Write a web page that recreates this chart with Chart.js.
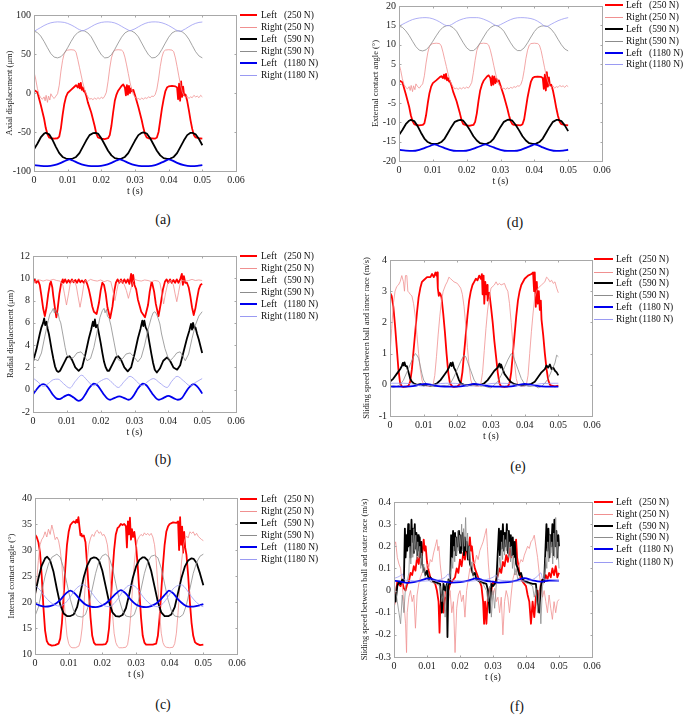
<!DOCTYPE html>
<html><head><meta charset="utf-8">
<script src="https://cdn.jsdelivr.net/npm/chart.js@4.4.1/dist/chart.umd.min.js"></script>
<style>
body{margin:0;background:#fff;width:685px;height:716px;overflow:hidden;position:relative;font-family:"Liberation Serif","Times New Roman",serif;}
.pw{position:absolute}
.lg{position:absolute;height:12px;font-size:9.5px;color:#111;line-height:12px;white-space:nowrap}
.lg span{position:absolute;top:0}
.lg i{position:absolute;height:0;border-top-style:solid}
.sub{position:absolute;font-size:14px;color:#111;transform:translate(-50%,-50%);white-space:nowrap}
</style></head><body>
<script>
// ---------- shared axis / legend texts ----------
const X_TICKS=[0,0.01,0.02,0.03,0.04,0.05,0.06];
const X_LABELS=['0','0.01','0.02','0.03','0.04','0.05','0.06'];
const SIDES=['Left','Right','Left','Right','Left','Right'];
const LOADS=['(250 N)','(250 N)','(590 N)','(590 N)','(1180 N)','(1180 N)'];

// ---------- (a) axial displacement ----------
const a_yTicks=[-100,-50,0,50,100];
const a_left250=[[0,4],[0.001,1],[0.002,-15],[0.003,-33],[0.0035,-45],[0.004,-53],[0.0045,-57],[0.005,-58],[0.006,-58.5],[0.007,-58],[0.0075,-56],[0.008,-45],[0.0085,-28],[0.009,-14],[0.0095,-5],[0.010,0],[0.011,4],[0.012,8],[0.0125,10],[0.013,7],[0.0133,12],[0.0136,6],[0.0139,13],[0.0142,4],[0.0145,7],[0.0148,2],[0.015,3],[0.0155,-3],[0.016,-12],[0.017,-25],[0.018,-42],[0.0185,-52],[0.019,-57],[0.020,-58.5],[0.021,-59],[0.022,-58],[0.0225,-54],[0.023,-42],[0.0235,-25],[0.024,-10],[0.0245,-2],[0.025,3],[0.026,9],[0.0265,11],[0.027,7],[0.0273,-3],[0.0276,10],[0.0279,-2],[0.0282,9],[0.0285,0],[0.0288,6],[0.0291,2],[0.0295,4],[0.030,-3],[0.031,-18],[0.032,-35],[0.0325,-45],[0.033,-53],[0.0335,-57],[0.034,-58],[0.036,-58.5],[0.0365,-57],[0.037,-50],[0.0375,-35],[0.038,-20],[0.0385,-8],[0.039,2],[0.0395,7],[0.040,8.5],[0.041,9],[0.042,8.5],[0.0425,7],[0.0428,-8],[0.0431,12],[0.0434,-10],[0.0437,15],[0.044,-5],[0.0443,8],[0.0446,-3],[0.045,-2],[0.0455,-10],[0.046,-22],[0.0465,-35],[0.047,-46],[0.0475,-54],[0.048,-57],[0.049,-58],[0.05,-58.5]];
const a_right250=[[0,27],[0.0005,18],[0.001,6],[0.0015,-2],[0.002,-6],[0.0025,-8],[0.003,-5],[0.0033,-10],[0.0036,-3],[0.004,-12],[0.0043,-4],[0.0047,-9],[0.005,-1],[0.0055,-5],[0.006,-7],[0.0065,-4],[0.007,-1],[0.0075,10],[0.008,28],[0.0085,42],[0.009,51],[0.0095,54],[0.010,55],[0.011,55.5],[0.012,55],[0.0125,52],[0.013,43],[0.0135,33],[0.014,23],[0.0145,13],[0.015,5],[0.0155,-1],[0.016,-5],[0.0165,-8],[0.017,-7],[0.0175,-8.5],[0.018,-6.5],[0.0185,-8],[0.019,-6],[0.0195,-7.5],[0.020,-5.5],[0.0205,-7],[0.021,-4],[0.0215,1],[0.022,15],[0.0225,32],[0.023,45],[0.0235,52],[0.024,55],[0.025,55.5],[0.026,55],[0.0265,53],[0.027,46],[0.0275,36],[0.028,25],[0.0285,14],[0.029,5],[0.0295,-2],[0.030,-5],[0.0305,-8],[0.031,-7],[0.0315,-8.5],[0.032,-6.5],[0.0325,-8],[0.033,-6],[0.0335,-7],[0.034,-5],[0.0345,-6],[0.035,-4],[0.0355,-4.5],[0.036,-2],[0.0365,5],[0.037,18],[0.0375,34],[0.038,46],[0.0385,53],[0.039,55],[0.040,55.5],[0.041,55],[0.0415,53],[0.042,45],[0.0425,34],[0.043,22],[0.0435,11],[0.044,2],[0.0445,-3],[0.045,-6],[0.0455,-4],[0.046,-7],[0.0465,-5],[0.047,-6],[0.0475,-3],[0.048,-5],[0.0485,-4],[0.049,-6],[0.0495,-3],[0.05,-5]];
const a_left590=[[0,-72],[0.001,-65],[0.002,-57],[0.003,-52],[0.0035,-51],[0.0045,-53],[0.0055,-60],[0.0065,-69],[0.0075,-77],[0.0085,-82],[0.0095,-84],[0.0105,-84.5],[0.0115,-84],[0.0125,-82],[0.0135,-77],[0.0145,-69],[0.0155,-61],[0.0165,-54],[0.0175,-51.5],[0.0182,-51],[0.019,-52],[0.020,-58],[0.021,-66],[0.022,-74],[0.023,-80],[0.024,-83.5],[0.025,-84.5],[0.026,-84],[0.027,-82],[0.028,-77],[0.029,-69],[0.030,-61],[0.031,-54],[0.032,-51],[0.0325,-50.5],[0.0335,-52],[0.0345,-58],[0.0355,-66],[0.0365,-74],[0.0375,-80],[0.0385,-83.5],[0.0395,-84.5],[0.0405,-84],[0.0415,-82],[0.0425,-77],[0.0435,-69],[0.0445,-61],[0.0455,-54],[0.0465,-51],[0.047,-51],[0.048,-53],[0.049,-59],[0.05,-67]];
const a_right590=[[0,79.5],[0.001,77.5],[0.002,73],[0.003,66],[0.004,58],[0.005,50.5],[0.006,46],[0.007,45],[0.008,46.5],[0.009,51],[0.010,58],[0.011,66],[0.012,73],[0.013,77.5],[0.014,79.5],[0.0145,80],[0.015,79.5],[0.016,77],[0.017,72],[0.018,64],[0.019,56],[0.020,49],[0.021,45],[0.022,45.5],[0.023,49],[0.024,56],[0.025,64],[0.026,71.5],[0.027,77],[0.028,79.5],[0.0285,80],[0.029,79.5],[0.030,77],[0.031,72],[0.032,64],[0.033,56],[0.034,49],[0.035,45],[0.036,45.5],[0.037,49],[0.038,56],[0.039,64],[0.040,71.5],[0.041,77],[0.042,79.3],[0.043,79.8],[0.044,78.5],[0.045,75],[0.046,69],[0.047,61],[0.048,53],[0.049,47.5],[0.05,45]];
const a_left1180=[[0,-92.5],[0.002,-93.5],[0.004,-93.8],[0.006,-92.5],[0.008,-89.5],[0.0095,-86.5],[0.0105,-85],[0.0115,-86.5],[0.013,-89.5],[0.015,-92.5],[0.017,-93.8],[0.019,-93.8],[0.021,-92.5],[0.023,-89.5],[0.0245,-86.5],[0.0255,-85],[0.0265,-86.5],[0.028,-89.5],[0.030,-92.5],[0.032,-93.8],[0.034,-93.8],[0.036,-92.5],[0.038,-89],[0.0395,-86],[0.040,-85],[0.041,-86.3],[0.0425,-89.5],[0.0445,-92.5],[0.0465,-93.8],[0.0485,-93.5],[0.05,-92.5]];
const a_right1180=[[0,79],[0.001,81.5],[0.002,84],[0.003,86.5],[0.004,88.5],[0.005,90],[0.006,90.8],[0.007,91.2],[0.008,91],[0.009,90.5],[0.010,89.2],[0.011,87.3],[0.012,85],[0.013,82.3],[0.014,80.3],[0.0145,79.8],[0.015,80.5],[0.016,82.5],[0.017,85],[0.018,87.5],[0.019,89.3],[0.020,90.5],[0.021,91.1],[0.022,91.2],[0.023,90.8],[0.024,89.8],[0.025,88],[0.026,85.5],[0.027,83],[0.028,80.7],[0.0285,80],[0.029,80.5],[0.030,82.3],[0.031,84.8],[0.032,87.2],[0.033,89.2],[0.034,90.5],[0.035,91.1],[0.036,91.2],[0.037,90.9],[0.038,90],[0.039,88.5],[0.040,86.5],[0.041,84],[0.042,81.3],[0.043,79.3],[0.0435,79.2],[0.044,80],[0.045,82.3],[0.046,85],[0.047,87.5],[0.048,89.3],[0.049,90.5],[0.05,91]];

// ---------- (d) external contact angle ----------
const d_yTicks=[-20,-15,-10,-5,0,5,10,15,20];
const d_left250=[[0,0.8],[0.001,0.3],[0.002,-2.7],[0.003,-6.0],[0.0035,-8.2],[0.004,-9.7],[0.0045,-10.5],[0.005,-10.7],[0.006,-10.8],[0.007,-10.7],[0.0075,-10.3],[0.008,-8.2],[0.0085,-5.1],[0.009,-2.5],[0.0095,-0.8],[0.010,0.1],[0.011,0.8],[0.012,1.6],[0.0125,1.9],[0.013,1.4],[0.0133,2.3],[0.0136,1.2],[0.0139,2.5],[0.0142,0.8],[0.0145,1.4],[0.0148,0.5],[0.015,0.7],[0.0155,-0.5],[0.016,-2.1],[0.017,-4.5],[0.018,-7.7],[0.0185,-9.5],[0.019,-10.5],[0.020,-10.8],[0.021,-10.9],[0.022,-10.7],[0.0225,-9.9],[0.023,-7.7],[0.0235,-4.5],[0.024,-1.8],[0.0245,-0.3],[0.025,0.7],[0.026,1.8],[0.0265,2.1],[0.027,1.4],[0.0273,-0.5],[0.0276,1.9],[0.0279,-0.3],[0.0282,1.8],[0.0285,0.1],[0.0288,1.2],[0.0291,0.5],[0.0295,0.8],[0.030,-0.5],[0.031,-3.2],[0.032,-6.4],[0.0325,-8.2],[0.033,-9.7],[0.0335,-10.5],[0.034,-10.7],[0.036,-10.8],[0.0365,-10.5],[0.037,-9.2],[0.0375,-6.4],[0.038,-3.6],[0.0385,-1.4],[0.039,0.5],[0.0395,1.4],[0.040,1.7],[0.041,1.8],[0.042,1.7],[0.0425,1.4],[0.0428,-1.4],[0.0431,2.3],[0.0434,-1.8],[0.0437,2.9],[0.044,-0.8],[0.0443,1.6],[0.0446,-0.5],[0.045,-0.3],[0.0455,-1.8],[0.046,-4.0],[0.0465,-6.4],[0.047,-8.4],[0.0475,-9.9],[0.048,-10.5],[0.049,-10.7],[0.05,-10.8]];
const d_right250=[[0,5.1],[0.0005,3.4],[0.001,1.2],[0.0015,-0.3],[0.002,-1.0],[0.0025,-1.4],[0.003,-0.8],[0.0033,-1.8],[0.0036,-0.5],[0.004,-2.1],[0.0043,-0.6],[0.0047,-1.6],[0.005,-0.1],[0.0055,-0.8],[0.006,-1.2],[0.0065,-0.6],[0.007,-0.1],[0.0075,2.0],[0.008,5.3],[0.0085,7.9],[0.009,9.6],[0.0095,10.1],[0.010,10.3],[0.011,10.4],[0.012,10.3],[0.0125,9.7],[0.013,8.1],[0.0135,6.2],[0.014,4.4],[0.0145,2.5],[0.015,1.0],[0.0155,-0.1],[0.016,-0.8],[0.0165,-1.4],[0.017,-1.2],[0.0175,-1.5],[0.018,-1.1],[0.0185,-1.4],[0.019,-1.0],[0.0195,-1.3],[0.020,-0.9],[0.0205,-1.2],[0.021,-0.6],[0.0215,0.3],[0.022,2.9],[0.0225,6.0],[0.023,8.5],[0.0235,9.7],[0.024,10.3],[0.025,10.4],[0.026,10.3],[0.0265,9.9],[0.027,8.6],[0.0275,6.8],[0.028,4.7],[0.0285,2.7],[0.029,1.0],[0.0295,-0.3],[0.030,-0.8],[0.0305,-1.4],[0.031,-1.2],[0.0315,-1.5],[0.032,-1.1],[0.0325,-1.4],[0.033,-1.0],[0.0335,-1.2],[0.034,-0.8],[0.0345,-1.0],[0.035,-0.6],[0.0355,-0.7],[0.036,-0.3],[0.0365,1.0],[0.037,3.4],[0.0375,6.4],[0.038,8.6],[0.0385,9.9],[0.039,10.3],[0.040,10.4],[0.041,10.3],[0.0415,9.9],[0.042,8.5],[0.0425,6.4],[0.043,4.2],[0.0435,2.1],[0.044,0.5],[0.0445,-0.5],[0.045,-1.0],[0.0455,-0.6],[0.046,-1.2],[0.0465,-0.8],[0.047,-1.0],[0.0475,-0.5],[0.048,-0.8],[0.0485,-0.6],[0.049,-1.0],[0.0495,-0.5],[0.05,-0.8]];
const d_left590=[[0,-13.3],[0.001,-12.0],[0.002,-10.5],[0.003,-9.6],[0.0035,-9.4],[0.0045,-9.7],[0.0055,-11.0],[0.0065,-12.7],[0.0075,-14.2],[0.0085,-15.1],[0.0095,-15.5],[0.0105,-15.6],[0.0115,-15.5],[0.0125,-15.1],[0.0135,-14.2],[0.0145,-12.7],[0.0155,-11.2],[0.0165,-9.9],[0.0175,-9.5],[0.0182,-9.4],[0.019,-9.6],[0.020,-10.7],[0.021,-12.1],[0.022,-13.6],[0.023,-14.7],[0.024,-15.4],[0.025,-15.6],[0.026,-15.5],[0.027,-15.1],[0.028,-14.2],[0.029,-12.7],[0.030,-11.2],[0.031,-9.9],[0.032,-9.4],[0.0325,-9.3],[0.0335,-9.6],[0.0345,-10.7],[0.0355,-12.1],[0.0365,-13.6],[0.0375,-14.7],[0.0385,-15.4],[0.0395,-15.6],[0.0405,-15.5],[0.0415,-15.1],[0.0425,-14.2],[0.0435,-12.7],[0.0445,-11.2],[0.0455,-9.9],[0.0465,-9.4],[0.047,-9.4],[0.048,-9.7],[0.049,-10.8],[0.05,-12.3]];
const d_right590=[[0,14.8],[0.001,14.5],[0.002,13.6],[0.003,12.4],[0.004,10.9],[0.005,9.5],[0.006,8.6],[0.007,8.4],[0.008,8.7],[0.009,9.6],[0.010,10.9],[0.011,12.3],[0.012,13.6],[0.013,14.5],[0.014,14.9],[0.0145,15.0],[0.015,14.9],[0.016,14.4],[0.017,13.5],[0.018,12.0],[0.019,10.5],[0.020,9.2],[0.021,8.5],[0.022,8.5],[0.023,9.2],[0.024,10.5],[0.025,12.0],[0.026,13.4],[0.027,14.4],[0.028,14.9],[0.0285,15.0],[0.029,14.9],[0.030,14.4],[0.031,13.5],[0.032,12.0],[0.033,10.5],[0.034,9.2],[0.035,8.5],[0.036,8.5],[0.037,9.2],[0.038,10.5],[0.039,12.0],[0.040,13.4],[0.041,14.4],[0.042,14.8],[0.043,14.9],[0.044,14.7],[0.045,14.0],[0.046,12.9],[0.047,11.4],[0.048,10.0],[0.049,8.9],[0.05,8.4]];
const d_left1180=[[0,-17.1],[0.002,-17.3],[0.004,-17.4],[0.006,-17.1],[0.008,-16.5],[0.0095,-16.0],[0.0105,-15.7],[0.0115,-16.0],[0.013,-16.5],[0.015,-17.1],[0.017,-17.4],[0.019,-17.4],[0.021,-17.1],[0.023,-16.5],[0.0245,-16.0],[0.0255,-15.7],[0.0265,-16.0],[0.028,-16.5],[0.030,-17.1],[0.032,-17.4],[0.034,-17.4],[0.036,-17.1],[0.038,-16.4],[0.0395,-15.9],[0.040,-15.7],[0.041,-15.9],[0.0425,-16.5],[0.0445,-17.1],[0.0465,-17.4],[0.0485,-17.3],[0.05,-17.1]];
const d_right1180=[[0,14.8],[0.002,15.7],[0.004,16.5],[0.006,16.9],[0.008,17.0],[0.010,16.7],[0.012,15.9],[0.0135,15.1],[0.0145,14.9],[0.0155,15.2],[0.017,16.0],[0.019,16.7],[0.021,17.0],[0.023,17.0],[0.025,16.6],[0.027,15.8],[0.0285,15.0],[0.029,14.9],[0.030,15.2],[0.032,16.1],[0.034,16.8],[0.036,17.0],[0.038,16.9],[0.040,16.5],[0.042,15.5],[0.043,14.8],[0.0435,14.7],[0.045,15.3],[0.047,16.2],[0.049,16.8],[0.05,17.0]];

// ---------- (b) radial displacement ----------
const b_yTicks=[-2,0,2,4,6,8,10,12];
const b_left250=[[0,9.5],[0.0005,9.9],[0.001,9.6],[0.0015,9.8],[0.002,9.4],[0.0025,8.4],[0.003,7.3],[0.0035,6.6],[0.004,7.4],[0.0045,8.6],[0.005,9.5],[0.0053,9.7],[0.0057,9.2],[0.006,8.4],[0.0065,7.3],[0.0069,6.5],[0.0073,7.3],[0.0078,8.6],[0.0083,9.5],[0.0088,9.9],[0.009,9.6],[0.0095,9.9],[0.010,9.6],[0.0105,9.85],[0.011,9.6],[0.0115,9.9],[0.012,9.65],[0.0125,9.85],[0.013,9.6],[0.0135,9.9],[0.014,9.65],[0.0145,9.8],[0.015,9.6],[0.0155,9.85],[0.016,9.5],[0.0165,9.0],[0.017,8.3],[0.0175,7.5],[0.018,7.0],[0.0188,6.8],[0.0195,7.8],[0.020,8.9],[0.0205,9.6],[0.021,9.4],[0.0215,8.6],[0.022,7.4],[0.0228,6.4],[0.0235,7.5],[0.024,8.8],[0.0245,9.6],[0.025,9.9],[0.0255,9.6],[0.026,9.9],[0.0265,9.6],[0.027,9.9],[0.0275,9.6],[0.028,9.9],[0.0285,9.5],[0.029,10.4],[0.0293,9.3],[0.0296,10.3],[0.030,9.4],[0.0305,9.0],[0.031,8.1],[0.032,7.0],[0.0331,6.5],[0.034,7.6],[0.0345,8.8],[0.035,9.6],[0.0352,9.6],[0.0358,8.8],[0.0363,7.7],[0.0371,6.6],[0.0378,7.8],[0.0384,9.0],[0.039,9.7],[0.0395,9.9],[0.040,9.6],[0.0405,9.9],[0.041,9.6],[0.0415,9.85],[0.042,9.6],[0.0425,9.9],[0.043,9.6],[0.0435,9.9],[0.044,10.4],[0.0443,9.4],[0.0446,10.2],[0.045,9.6],[0.0455,9.6],[0.046,9.2],[0.0465,8.4],[0.047,7.4],[0.0475,6.7],[0.048,7.3],[0.0485,8.2],[0.049,9.0],[0.0495,9.4],[0.05,9.5]];
const b_right250=[[0,9.6],[0.001,9.8],[0.002,9.85],[0.003,9.75],[0.004,9.85],[0.005,9.8],[0.006,9.9],[0.007,9.8],[0.008,9.75],[0.0088,9.4],[0.0093,8.6],[0.0099,7.6],[0.0105,8.6],[0.011,9.5],[0.0115,9.8],[0.0123,9.7],[0.0128,9.3],[0.0133,8.4],[0.0139,7.4],[0.0145,8.4],[0.015,9.4],[0.0155,9.8],[0.016,9.7],[0.017,9.9],[0.018,9.8],[0.019,9.75],[0.020,9.85],[0.021,9.7],[0.022,9.8],[0.023,9.7],[0.0233,9.3],[0.0237,8.8],[0.0242,8.0],[0.0247,8.8],[0.0252,9.5],[0.0257,9.8],[0.0265,9.7],[0.027,9.4],[0.0276,8.9],[0.0282,8.2],[0.0288,8.9],[0.0294,9.6],[0.030,9.9],[0.031,9.8],[0.032,9.75],[0.033,9.85],[0.034,9.8],[0.035,9.7],[0.036,9.8],[0.037,9.75],[0.0375,9.6],[0.038,8.8],[0.0386,7.7],[0.0392,8.7],[0.0398,9.5],[0.0405,9.8],[0.041,9.7],[0.0415,9.4],[0.042,8.6],[0.0425,7.9],[0.043,8.7],[0.0435,9.5],[0.044,9.8],[0.045,9.75],[0.046,9.8],[0.047,9.9],[0.048,9.8],[0.049,9.85],[0.05,9.8]];
const b_left590=[[0,2.5],[0.001,3.6],[0.002,5.0],[0.0025,5.6],[0.003,6.0],[0.0033,6.4],[0.0036,5.8],[0.004,6.1],[0.0043,5.5],[0.0047,5.0],[0.005,4.5],[0.0055,3.6],[0.006,2.8],[0.0065,2.1],[0.007,1.7],[0.0075,1.6],[0.008,1.7],[0.009,2.3],[0.010,2.9],[0.0108,3.0],[0.0115,2.7],[0.0125,2.0],[0.0135,1.7],[0.0145,2.0],[0.0155,3.2],[0.0165,4.6],[0.0172,5.4],[0.0177,6.1],[0.018,5.7],[0.0183,6.3],[0.0186,5.6],[0.019,5.8],[0.0195,5.0],[0.020,4.2],[0.0205,3.3],[0.021,2.5],[0.0215,2.0],[0.022,1.7],[0.0225,1.7],[0.0235,2.3],[0.0245,2.9],[0.0252,3.0],[0.026,2.7],[0.027,2.0],[0.028,1.65],[0.029,2.0],[0.030,3.2],[0.031,4.6],[0.0318,5.5],[0.0323,6.2],[0.0326,5.7],[0.0329,6.2],[0.0333,5.6],[0.0338,5.3],[0.0343,4.4],[0.035,3.2],[0.0355,2.4],[0.036,1.8],[0.0366,1.55],[0.0375,1.9],[0.0385,2.6],[0.0396,2.9],[0.0405,2.6],[0.0415,2.0],[0.0426,1.8],[0.0435,2.2],[0.0445,3.4],[0.0455,4.6],[0.0462,5.3],[0.0467,5.9],[0.047,5.4],[0.0473,6.0],[0.0477,5.5],[0.048,5.6],[0.0485,5.0],[0.049,4.5],[0.0495,3.9],[0.05,3.3]];
const b_right590=[[0,2.9],[0.0008,2.7],[0.0015,2.6],[0.0025,3.3],[0.0035,4.8],[0.0045,6.2],[0.005,6.8],[0.0055,7.0],[0.006,7.3],[0.0063,6.9],[0.0066,7.2],[0.007,6.8],[0.0074,6.9],[0.0078,6.3],[0.0082,6.0],[0.0088,5.0],[0.0095,3.8],[0.010,3.1],[0.011,2.8],[0.012,2.9],[0.013,3.3],[0.0142,3.4],[0.015,3.1],[0.016,2.6],[0.017,2.8],[0.018,3.8],[0.019,5.3],[0.0198,6.5],[0.0205,7.1],[0.021,7.3],[0.0213,6.9],[0.0217,7.2],[0.022,6.6],[0.0225,6.4],[0.023,5.8],[0.0235,5.0],[0.024,4.2],[0.0245,3.4],[0.025,2.8],[0.0255,2.6],[0.0265,2.8],[0.0275,3.2],[0.0287,3.3],[0.0297,3.0],[0.031,2.5],[0.032,2.9],[0.033,4.0],[0.034,5.4],[0.035,6.5],[0.0355,6.9],[0.036,7.0],[0.0365,6.8],[0.037,6.4],[0.0375,5.9],[0.038,5.0],[0.039,3.7],[0.040,2.8],[0.0405,2.6],[0.0415,2.9],[0.0425,3.3],[0.0435,3.4],[0.0445,2.9],[0.045,2.6],[0.046,3.2],[0.047,4.6],[0.048,5.8],[0.049,6.6],[0.05,7.0]];
const b_left1180=[[0,-0.4],[0.001,0.0],[0.002,0.35],[0.003,0.5],[0.004,0.35],[0.005,-0.05],[0.006,-0.5],[0.007,-0.8],[0.0078,-0.85],[0.009,-0.65],[0.0105,-0.45],[0.012,-0.7],[0.0135,-1.0],[0.0145,-0.85],[0.0155,-0.4],[0.0165,0.1],[0.0175,0.45],[0.018,0.55],[0.019,0.4],[0.020,0.0],[0.021,-0.45],[0.022,-0.8],[0.0228,-0.9],[0.024,-0.75],[0.0255,-0.6],[0.027,-0.75],[0.0282,-0.9],[0.029,-0.8],[0.030,-0.4],[0.031,0.1],[0.032,0.45],[0.0325,0.55],[0.0335,0.4],[0.0345,0.0],[0.0355,-0.45],[0.0365,-0.8],[0.0372,-0.9],[0.0385,-0.75],[0.040,-0.55],[0.0415,-0.75],[0.0428,-0.9],[0.044,-0.75],[0.045,-0.3],[0.046,0.15],[0.047,0.45],[0.0475,0.5],[0.0485,0.3],[0.0495,-0.1],[0.05,-0.35]];
const b_right1180=[[0,1.05],[0.0015,0.7],[0.003,0.3],[0.0045,0.55],[0.006,0.9],[0.0074,0.95],[0.009,0.55],[0.0109,0.15],[0.0125,0.75],[0.0144,1.3],[0.016,0.85],[0.0178,0.35],[0.0198,0.75],[0.0218,1.0],[0.0235,0.6],[0.0252,0.2],[0.027,0.75],[0.0287,1.2],[0.0305,0.8],[0.0322,0.35],[0.034,0.75],[0.0356,1.0],[0.0375,0.6],[0.0396,0.2],[0.041,0.75],[0.0426,1.2],[0.0445,0.8],[0.0465,0.35],[0.048,0.65],[0.05,1.0]];

// ---------- (e) sliding speed, inner race ----------
const e_yTicks=[-1,0,1,2,3,4];
const e_left250=[[0,2.95],[0.0005,2.85],[0.001,2.5],[0.0015,1.9],[0.002,1.2],[0.0025,0.5],[0.003,0.05],[0.0035,-0.05],[0.004,-0.07],[0.005,-0.05],[0.0055,-0.03],[0.006,0.1],[0.0065,0.5],[0.007,1.1],[0.0075,1.7],[0.008,2.3],[0.0085,2.8],[0.009,3.1],[0.0095,3.3],[0.010,3.35],[0.011,3.45],[0.012,3.45],[0.0125,3.55],[0.013,3.45],[0.0135,3.6],[0.0138,3.5],[0.014,3.6],[0.0142,3.1],[0.0145,2.85],[0.0147,2.95],[0.015,2.9],[0.0153,2.8],[0.0158,2.3],[0.0163,1.7],[0.0168,1.0],[0.0173,0.4],[0.0178,0.05],[0.0185,-0.05],[0.019,-0.07],[0.020,-0.05],[0.0205,0.0],[0.021,0.05],[0.0215,0.4],[0.022,1.0],[0.0225,1.6],[0.023,2.2],[0.0235,2.7],[0.024,3.0],[0.0245,3.2],[0.025,3.3],[0.0255,3.4],[0.026,3.35],[0.0265,3.5],[0.027,3.4],[0.0273,3.55],[0.0275,2.9],[0.0278,3.5],[0.028,2.6],[0.0283,3.3],[0.0286,2.9],[0.0289,3.2],[0.029,2.7],[0.0295,2.95],[0.030,2.5],[0.0305,2.0],[0.031,1.4],[0.0315,0.9],[0.032,0.4],[0.0325,0.05],[0.033,-0.05],[0.034,-0.07],[0.035,-0.05],[0.0355,0.05],[0.036,0.4],[0.0365,1.0],[0.037,1.6],[0.0375,2.2],[0.038,2.7],[0.0385,3.0],[0.039,3.2],[0.040,3.4],[0.041,3.5],[0.042,3.55],[0.0425,3.6],[0.0428,3.0],[0.043,3.6],[0.0433,2.5],[0.0436,3.3],[0.0439,2.6],[0.0442,3.0],[0.0445,2.4],[0.0448,2.7],[0.045,2.1],[0.0455,1.6],[0.046,1.0],[0.0465,0.5],[0.047,0.15],[0.0475,0.0],[0.048,-0.03],[0.049,-0.05],[0.05,-0.03]];
const e_right250=[[0,0.95],[0.0005,1.8],[0.001,2.6],[0.0015,3.0],[0.002,3.15],[0.0025,3.2],[0.003,3.3],[0.0035,3.5],[0.004,3.3],[0.0043,3.0],[0.0046,3.5],[0.005,3.5],[0.0053,3.0],[0.0057,2.95],[0.006,2.9],[0.0065,2.85],[0.007,2.6],[0.0075,2.2],[0.008,1.6],[0.0085,1.0],[0.009,0.5],[0.0095,0.15],[0.010,0.0],[0.011,-0.05],[0.012,-0.05],[0.0128,0.0],[0.0133,0.3],[0.0138,0.9],[0.0143,1.6],[0.0148,2.2],[0.0153,2.7],[0.0158,3.0],[0.0165,3.2],[0.017,3.3],[0.0175,3.45],[0.018,3.4],[0.019,3.3],[0.020,3.25],[0.021,3.1],[0.0215,2.9],[0.022,2.5],[0.0225,1.9],[0.023,1.2],[0.0235,0.6],[0.024,0.15],[0.0245,0.0],[0.0255,-0.05],[0.0265,-0.05],[0.027,0.05],[0.0275,0.4],[0.028,1.1],[0.0285,1.8],[0.029,2.4],[0.0295,2.8],[0.030,3.1],[0.031,3.2],[0.0315,3.3],[0.032,3.2],[0.0325,3.25],[0.033,3.2],[0.034,3.25],[0.0345,3.1],[0.035,3.0],[0.0355,2.6],[0.036,2.0],[0.0365,1.3],[0.037,0.7],[0.0375,0.2],[0.038,0.0],[0.039,-0.05],[0.040,-0.05],[0.0405,0.0],[0.041,0.3],[0.0415,1.0],[0.042,1.7],[0.0425,2.3],[0.043,2.8],[0.0435,3.0],[0.044,3.1],[0.045,3.2],[0.046,3.3],[0.0465,3.45],[0.047,3.4],[0.0475,3.3],[0.048,3.35],[0.0485,3.25],[0.049,3.3],[0.0495,3.1],[0.05,2.95]];
const e_left590=[[0,0.1],[0.001,0.2],[0.002,0.35],[0.003,0.5],[0.0035,0.6],[0.0038,0.7],[0.004,0.62],[0.0043,0.72],[0.0046,0.6],[0.005,0.6],[0.0055,0.4],[0.006,0.2],[0.0065,0.1],[0.007,0.05],[0.008,0.0],[0.009,0.02],[0.010,-0.02],[0.011,0.0],[0.012,-0.03],[0.013,0.0],[0.014,0.05],[0.015,0.15],[0.016,0.3],[0.017,0.45],[0.0175,0.55],[0.018,0.7],[0.0183,0.6],[0.0186,0.72],[0.019,0.55],[0.0195,0.45],[0.020,0.3],[0.0205,0.15],[0.021,0.05],[0.022,0.0],[0.023,-0.02],[0.024,0.0],[0.025,0.02],[0.026,-0.01],[0.027,0.0],[0.028,0.05],[0.029,0.15],[0.030,0.3],[0.031,0.45],[0.032,0.55],[0.0325,0.68],[0.0328,0.55],[0.033,0.65],[0.0335,0.5],[0.034,0.35],[0.035,0.2],[0.036,0.08],[0.037,0.02],[0.038,0.0],[0.039,-0.02],[0.040,0.0],[0.041,0.0],[0.042,0.03],[0.043,0.1],[0.044,0.25],[0.045,0.4],[0.046,0.5],[0.0465,0.62],[0.047,0.55],[0.0475,0.65],[0.048,0.5],[0.0485,0.55],[0.049,0.45],[0.0495,0.4],[0.05,0.3]];
const e_right590=[[0,-0.05],[0.001,-0.08],[0.002,-0.05],[0.003,0.0],[0.004,0.15],[0.005,0.4],[0.006,0.65],[0.007,0.9],[0.0075,1.0],[0.008,0.95],[0.0085,0.85],[0.009,0.6],[0.0095,0.35],[0.010,0.15],[0.011,0.0],[0.012,-0.05],[0.013,-0.05],[0.014,-0.03],[0.015,-0.05],[0.016,-0.02],[0.017,-0.04],[0.018,0.05],[0.019,0.25],[0.020,0.5],[0.021,0.75],[0.022,0.95],[0.0225,0.9],[0.023,0.75],[0.024,0.45],[0.025,0.15],[0.026,0.0],[0.027,-0.05],[0.028,-0.03],[0.029,-0.08],[0.030,-0.1],[0.031,0.0],[0.032,0.1],[0.033,0.3],[0.034,0.55],[0.035,0.8],[0.036,1.0],[0.0365,0.95],[0.037,0.8],[0.038,0.5],[0.039,0.2],[0.040,0.02],[0.041,-0.05],[0.042,-0.05],[0.043,-0.02],[0.044,-0.1],[0.045,-0.05],[0.046,0.05],[0.047,0.2],[0.048,0.45],[0.049,0.7],[0.0495,0.95],[0.05,0.9]];
const e_left1180=[[0,-0.05],[0.003,-0.06],[0.006,-0.05],[0.008,-0.02],[0.0105,0.03],[0.013,-0.02],[0.015,-0.05],[0.018,-0.06],[0.021,-0.05],[0.023,-0.02],[0.025,0.03],[0.0275,-0.01],[0.030,-0.05],[0.033,-0.06],[0.036,-0.05],[0.038,-0.01],[0.040,0.03],[0.0425,-0.01],[0.045,-0.05],[0.048,-0.06],[0.05,-0.06]];
const e_right1180=[[0,0.05],[0.004,0.05],[0.007,0.02],[0.0095,-0.04],[0.012,-0.02],[0.015,0.04],[0.018,0.05],[0.021,0.03],[0.024,-0.04],[0.027,-0.02],[0.03,0.04],[0.033,0.05],[0.036,0.03],[0.039,-0.04],[0.042,-0.02],[0.045,0.04],[0.05,0.05]];

// ---------- (c) internal contact angle ----------
const c_yTicks=[10,15,20,25,30,35,40];
const c_left250=[[0,33],[0.0005,32.5],[0.001,31.5],[0.0015,29.5],[0.002,25],[0.0025,19],[0.003,14.5],[0.0035,12.5],[0.004,11.9],[0.005,11.6],[0.006,11.7],[0.007,12],[0.0075,13],[0.008,16],[0.0085,21],[0.009,26.5],[0.0095,31],[0.010,33.5],[0.0105,34.8],[0.011,35.2],[0.0115,35.5],[0.012,35.2],[0.0123,35.8],[0.0126,35.3],[0.0129,36.3],[0.0132,34.5],[0.0135,32.8],[0.0138,33.1],[0.014,32.6],[0.0145,32.8],[0.015,31.5],[0.0155,27],[0.016,22],[0.0165,17],[0.017,13.5],[0.0175,12.2],[0.018,11.8],[0.019,11.8],[0.020,11.8],[0.021,11.9],[0.0215,12.5],[0.022,15],[0.0225,20],[0.023,25.5],[0.0235,30],[0.024,33],[0.0245,34.2],[0.025,34.5],[0.0255,35],[0.026,34.8],[0.0265,35],[0.027,34.6],[0.0273,30.5],[0.0276,35.5],[0.0279,33],[0.0282,36.2],[0.0285,32],[0.0288,34],[0.0291,32.5],[0.0295,33.5],[0.030,31],[0.0305,27],[0.031,22],[0.0315,17],[0.032,13.5],[0.0325,12.2],[0.033,11.8],[0.034,11.8],[0.035,11.8],[0.036,12],[0.0365,13.5],[0.037,17],[0.0375,22],[0.038,27],[0.0385,31],[0.039,33.5],[0.0395,34.5],[0.040,35],[0.041,35.3],[0.042,35.2],[0.0425,35.5],[0.0428,30],[0.0431,36.3],[0.0434,31],[0.0437,34.5],[0.044,29.5],[0.0443,33.5],[0.0446,30.5],[0.045,29],[0.0455,25],[0.046,20],[0.0465,16],[0.047,13.5],[0.0475,12.3],[0.048,12],[0.049,11.7],[0.05,11.8]];
const c_right250=[[0,20],[0.0005,24],[0.001,28],[0.0015,31],[0.002,32],[0.0025,32.5],[0.003,33.5],[0.0035,32.5],[0.004,34],[0.0045,33],[0.005,34.8],[0.0055,33.5],[0.006,32],[0.0065,32.5],[0.007,31.8],[0.0075,30],[0.008,27],[0.0085,22],[0.009,17],[0.0095,13.5],[0.010,12],[0.0105,11.4],[0.011,11.2],[0.012,11.2],[0.013,11.5],[0.0135,12.5],[0.014,15],[0.0145,19],[0.015,24],[0.0155,28],[0.016,31],[0.0165,32.3],[0.017,33],[0.0175,32.6],[0.018,33.5],[0.0185,33.8],[0.019,33.2],[0.0195,33.5],[0.020,32.8],[0.0205,33],[0.021,32.3],[0.0215,31],[0.022,28],[0.0225,23],[0.023,18],[0.0235,14],[0.024,12.2],[0.0245,11.5],[0.025,11.2],[0.026,11.2],[0.027,11.3],[0.0275,11.8],[0.028,14],[0.0285,18],[0.029,23],[0.0295,27.5],[0.030,30.5],[0.0305,32],[0.031,32.6],[0.0315,33],[0.032,32.7],[0.0325,33.3],[0.033,32.9],[0.0335,33.2],[0.034,32.8],[0.0345,33.2],[0.035,32.5],[0.0355,31],[0.036,28],[0.0365,23],[0.037,18],[0.0375,14],[0.038,12.2],[0.0385,11.5],[0.039,11.3],[0.040,11.2],[0.041,11.3],[0.0415,12],[0.042,14],[0.0425,18],[0.043,23],[0.0435,27.5],[0.044,30.5],[0.0445,32],[0.045,32.7],[0.0455,32.3],[0.046,33.5],[0.0465,33.2],[0.047,33.5],[0.0475,32.8],[0.048,33.2],[0.0485,32.6],[0.049,32.3],[0.0495,32],[0.05,31.8]];
const c_left590=[[0,21.5],[0.001,24.5],[0.002,27],[0.003,28.4],[0.0036,28.7],[0.0045,28],[0.0055,25.8],[0.0065,22.5],[0.0075,19.5],[0.0085,17.8],[0.0095,17.3],[0.0105,17.3],[0.0115,17.6],[0.0125,19],[0.0135,21.8],[0.0145,24.8],[0.0155,27],[0.0165,28.3],[0.0175,28.6],[0.0182,28.5],[0.019,28],[0.020,26],[0.021,23],[0.022,20],[0.023,18],[0.024,17.3],[0.0251,17.2],[0.026,17.5],[0.027,18.8],[0.028,21.5],[0.029,24.5],[0.030,26.8],[0.031,28.1],[0.032,28.6],[0.0325,28.6],[0.0335,28],[0.0345,26],[0.0355,23],[0.0365,20],[0.0375,18],[0.0385,17.3],[0.0397,17.3],[0.0405,17.6],[0.0415,19],[0.0425,21.8],[0.0435,24.6],[0.0445,26.8],[0.0455,28],[0.0465,28.4],[0.0471,28.3],[0.048,27.5],[0.049,25.5],[0.05,23.2]];
const c_right590=[[0,17.3],[0.001,19],[0.002,22],[0.003,25],[0.004,27.3],[0.005,28.6],[0.0065,29.2],[0.0075,28.6],[0.0085,26.5],[0.0095,23.5],[0.0105,20.5],[0.0115,18.3],[0.0125,17.3],[0.014,17.1],[0.015,17.6],[0.016,19.5],[0.017,22.5],[0.018,25.5],[0.019,27.8],[0.020,28.9],[0.021,29.2],[0.022,28.6],[0.023,26.6],[0.024,23.5],[0.025,20.5],[0.026,18.3],[0.027,17.3],[0.0285,17.1],[0.0295,17.6],[0.0305,19.5],[0.0315,22.5],[0.0325,25.5],[0.0335,27.7],[0.0345,28.8],[0.0355,29],[0.0365,28.5],[0.0375,26.5],[0.0385,23.5],[0.0395,20.5],[0.0405,18.3],[0.0415,17.3],[0.043,17.1],[0.044,17.6],[0.045,19.5],[0.046,22.5],[0.047,25.5],[0.048,27.6],[0.049,28.8],[0.05,29.2]];
const c_left1180=[[0,19.7],[0.0015,19.3],[0.003,19.1],[0.0045,19.2],[0.006,19.6],[0.0075,20.4],[0.009,21.5],[0.0105,22.2],[0.012,21.5],[0.0135,20.4],[0.015,19.5],[0.0165,19.1],[0.018,19.0],[0.0195,19.2],[0.021,19.7],[0.0225,20.6],[0.024,21.6],[0.0255,22.3],[0.027,21.6],[0.0285,20.4],[0.030,19.5],[0.0315,19.1],[0.033,19.0],[0.0345,19.2],[0.036,19.7],[0.0375,20.6],[0.039,21.7],[0.0398,22.2],[0.041,21.7],[0.0425,20.5],[0.044,19.6],[0.0455,19.1],[0.047,19.1],[0.0485,19.3],[0.05,19.6]];
const c_right1180=[[0,23.2],[0.0015,22.3],[0.003,21],[0.0045,20],[0.006,19.4],[0.0075,19.2],[0.009,19.8],[0.0105,21],[0.012,22.4],[0.0135,23.2],[0.0145,23.3],[0.016,22.5],[0.0175,21.2],[0.019,20],[0.0205,19.3],[0.022,19.1],[0.0235,19.7],[0.025,21],[0.0265,22.4],[0.028,23.2],[0.029,23.2],[0.0305,22.5],[0.032,21.1],[0.0335,20],[0.035,19.3],[0.0365,19.1],[0.038,19.7],[0.0395,21],[0.041,22.5],[0.0425,23.2],[0.0435,23.3],[0.045,22.4],[0.0465,21],[0.048,19.9],[0.0495,19.2],[0.05,19.1]];

// ---------- (f) sliding speed, outer race ----------
const f_yTicks=[-0.3,-0.2,-0.1,0,0.1,0.2,0.3,0.4];
const f_left250=[[0,-0.07],[0.0005,-0.02],[0.001,0.04],[0.0015,0.03],[0.002,0.02],[0.0025,0.04],[0.003,0.01],[0.0035,0.0],[0.004,0.03],[0.0045,0.04],[0.005,0.08],[0.0055,0.07],[0.006,0.11],[0.0065,0.09],[0.007,0.15],[0.0075,0.12],[0.008,0.19],[0.0085,0.16],[0.009,0.23],[0.0093,0.18],[0.0096,0.2],[0.010,0.13],[0.0105,0.09],[0.011,0.06],[0.0115,0.05],[0.012,0.04],[0.0125,0.03],[0.013,0.0],[0.0135,-0.05],[0.0138,-0.19],[0.014,-0.08],[0.0145,-0.02],[0.015,-0.1],[0.0155,-0.03],[0.016,0.02],[0.0165,0.0],[0.017,0.03],[0.0175,0.04],[0.018,0.05],[0.0185,0.06],[0.019,0.1],[0.0195,0.08],[0.020,0.14],[0.0205,0.11],[0.021,0.17],[0.0215,0.14],[0.022,0.2],[0.0225,0.16],[0.023,0.24],[0.0233,0.18],[0.0236,0.2],[0.024,0.14],[0.0245,0.1],[0.025,0.08],[0.0255,0.06],[0.026,0.04],[0.0265,0.02],[0.027,-0.05],[0.0273,-0.15],[0.0276,-0.05],[0.028,-0.15],[0.0285,-0.02],[0.029,0.01],[0.0295,0.0],[0.030,0.04],[0.0305,0.03],[0.031,0.05],[0.0315,0.07],[0.032,0.1],[0.0325,0.08],[0.033,0.13],[0.0335,0.11],[0.034,0.16],[0.0345,0.13],[0.035,0.19],[0.0355,0.15],[0.036,0.22],[0.0365,0.17],[0.037,0.23],[0.0373,0.15],[0.0376,0.12],[0.038,0.08],[0.0385,0.05],[0.039,0.04],[0.040,0.02],[0.0405,-0.02],[0.041,-0.05],[0.0415,-0.15],[0.042,-0.05],[0.0425,-0.12],[0.043,-0.03],[0.0435,0.0],[0.044,-0.05],[0.0445,0.03],[0.045,0.05],[0.0455,0.04],[0.046,0.07],[0.0465,0.05],[0.047,0.08],[0.0475,0.06],[0.048,0.1],[0.0485,0.07],[0.049,0.11],[0.0495,0.06],[0.05,0.08]];
const f_right250=[[0,0.2],[0.0005,0.22],[0.001,0.15],[0.0015,0.12],[0.002,0.1],[0.0025,0.02],[0.003,-0.05],[0.0035,-0.15],[0.0038,-0.28],[0.004,-0.1],[0.0045,-0.03],[0.005,0.0],[0.0055,-0.05],[0.006,-0.02],[0.0065,-0.17],[0.007,-0.02],[0.0075,0.03],[0.008,0.06],[0.0085,0.08],[0.009,0.1],[0.0095,0.09],[0.010,0.12],[0.0105,0.1],[0.011,0.14],[0.0115,0.13],[0.012,0.17],[0.0125,0.2],[0.013,0.23],[0.0133,0.18],[0.0136,0.2],[0.014,0.12],[0.0145,0.05],[0.015,0.02],[0.0155,-0.03],[0.016,0.01],[0.0165,-0.05],[0.017,0.0],[0.0175,-0.1],[0.018,-0.05],[0.0185,-0.28],[0.019,-0.08],[0.0195,-0.02],[0.020,0.0],[0.0205,-0.05],[0.021,-0.02],[0.0215,-0.12],[0.022,0.0],[0.0225,0.05],[0.023,0.1],[0.0235,0.08],[0.024,0.13],[0.0245,0.12],[0.025,0.16],[0.0255,0.14],[0.026,0.18],[0.0265,0.2],[0.027,0.22],[0.0275,0.25],[0.028,0.28],[0.0283,0.2],[0.0286,0.12],[0.029,0.05],[0.0295,0.02],[0.030,-0.02],[0.0305,0.01],[0.031,-0.05],[0.0315,-0.03],[0.032,-0.1],[0.0325,-0.03],[0.033,-0.2],[0.0335,-0.05],[0.034,0.0],[0.0345,-0.03],[0.035,-0.1],[0.0355,-0.02],[0.036,0.05],[0.0365,0.08],[0.037,0.07],[0.0375,0.1],[0.038,0.12],[0.0385,0.14],[0.039,0.13],[0.0395,0.16],[0.040,0.18],[0.0405,0.2],[0.041,0.19],[0.0415,0.22],[0.042,0.23],[0.0425,0.25],[0.043,0.2],[0.0435,0.15],[0.044,0.08],[0.0445,0.02],[0.045,-0.03],[0.0455,0.0],[0.046,-0.05],[0.0465,-0.1],[0.047,-0.02],[0.0475,-0.08],[0.048,-0.13],[0.0485,-0.05],[0.049,-0.1],[0.0495,-0.05],[0.05,-0.04]];
const f_left590=[[0,0.0],[0.0005,-0.05],[0.001,0.02],[0.0015,0.04],[0.002,0.03],[0.0025,0.05],[0.003,0.04],[0.0033,0.28],[0.0035,0.15],[0.0038,0.25],[0.004,0.18],[0.0043,0.3],[0.0045,0.2],[0.0048,0.27],[0.005,0.15],[0.0053,0.32],[0.0055,0.22],[0.0058,0.28],[0.006,0.17],[0.0063,0.3],[0.0065,0.19],[0.0068,0.26],[0.007,0.16],[0.0073,0.25],[0.0075,0.18],[0.0078,0.24],[0.008,0.15],[0.0083,0.22],[0.0085,0.12],[0.009,0.1],[0.0095,0.07],[0.010,0.09],[0.0105,0.05],[0.011,0.06],[0.012,0.04],[0.013,0.035],[0.014,0.03],[0.0145,-0.1],[0.015,0.03],[0.0155,0.0],[0.016,0.03],[0.0162,-0.21],[0.0165,0.05],[0.017,0.03],[0.0173,0.25],[0.0176,0.15],[0.0179,0.27],[0.0182,0.18],[0.0185,0.26],[0.0188,0.16],[0.0191,0.24],[0.0194,0.2],[0.0197,0.27],[0.02,0.17],[0.0203,0.25],[0.0206,0.19],[0.0209,0.26],[0.0212,0.16],[0.0215,0.24],[0.0218,0.18],[0.0221,0.22],[0.0224,0.14],[0.0227,0.2],[0.023,0.12],[0.0235,0.1],[0.024,0.07],[0.0245,0.08],[0.025,0.05],[0.026,0.04],[0.027,0.035],[0.028,0.03],[0.0285,0.0],[0.029,-0.1],[0.0295,0.03],[0.030,0.02],[0.031,0.04],[0.0318,0.28],[0.0321,0.16],[0.0324,0.27],[0.0327,0.19],[0.033,0.3],[0.0333,0.18],[0.0336,0.26],[0.0339,0.2],[0.0342,0.3],[0.0345,0.17],[0.0348,0.27],[0.0351,0.2],[0.0354,0.25],[0.0357,0.16],[0.036,0.24],[0.0363,0.15],[0.0366,0.22],[0.037,0.12],[0.0375,0.1],[0.038,0.07],[0.0385,0.08],[0.039,0.05],[0.040,0.04],[0.041,0.035],[0.042,0.03],[0.043,0.03],[0.0435,-0.05],[0.044,-0.1],[0.0445,0.02],[0.045,0.05],[0.0455,0.04],[0.0462,0.3],[0.0465,0.18],[0.0468,0.28],[0.0471,0.15],[0.0474,0.25],[0.0477,0.2],[0.048,0.3],[0.0483,0.16],[0.0486,0.32],[0.0489,0.2],[0.0492,0.27],[0.0495,0.15],[0.0498,0.25],[0.05,0.2]];
const f_right590=[[0,0.03],[0.0005,0.0],[0.001,-0.05],[0.0015,-0.1],[0.002,-0.15],[0.0025,-0.02],[0.003,-0.1],[0.0035,0.02],[0.004,0.04],[0.0045,0.08],[0.0048,0.2],[0.0051,0.12],[0.0054,0.25],[0.0057,0.15],[0.006,0.28],[0.0063,0.18],[0.0066,0.25],[0.0069,0.14],[0.0072,0.22],[0.0075,0.15],[0.0078,0.2],[0.0081,0.1],[0.0084,0.17],[0.0087,0.08],[0.009,0.12],[0.0095,0.05],[0.010,0.06],[0.011,0.04],[0.012,0.035],[0.013,0.03],[0.014,0.02],[0.0145,-0.05],[0.015,0.0],[0.0155,-0.12],[0.016,0.02],[0.0165,0.04],[0.017,0.06],[0.0175,0.15],[0.0178,0.1],[0.0181,0.2],[0.0184,0.13],[0.0187,0.24],[0.019,0.16],[0.0193,0.27],[0.0196,0.18],[0.0199,0.25],[0.0202,0.2],[0.0205,0.3],[0.0208,0.18],[0.0211,0.28],[0.0214,0.2],[0.0217,0.33],[0.022,0.18],[0.0223,0.26],[0.0226,0.14],[0.0229,0.2],[0.0232,0.1],[0.0236,0.13],[0.024,0.06],[0.025,0.05],[0.026,0.04],[0.027,0.03],[0.028,0.0],[0.0285,-0.05],[0.029,0.02],[0.0295,-0.12],[0.030,0.0],[0.0305,-0.08],[0.031,0.03],[0.0315,0.06],[0.032,0.15],[0.0323,0.1],[0.0326,0.22],[0.0329,0.14],[0.0332,0.25],[0.0335,0.16],[0.0338,0.23],[0.0341,0.18],[0.0344,0.27],[0.0347,0.15],[0.035,0.22],[0.0353,0.13],[0.0356,0.2],[0.0359,0.1],[0.0362,0.16],[0.0366,0.07],[0.037,0.1],[0.0375,0.05],[0.038,0.06],[0.039,0.04],[0.040,0.035],[0.041,0.03],[0.042,0.02],[0.0425,-0.03],[0.043,0.01],[0.0435,-0.1],[0.044,0.0],[0.0445,-0.15],[0.045,0.02],[0.0455,0.05],[0.046,0.15],[0.0463,0.1],[0.0466,0.22],[0.0469,0.13],[0.0472,0.25],[0.0475,0.17],[0.0478,0.22],[0.0481,0.12],[0.0484,0.26],[0.0487,0.15],[0.049,0.33],[0.0493,0.14],[0.0496,0.22],[0.05,0.1]];
const f_left1180=[[0,0.045],[0.002,0.04],[0.004,0.035],[0.006,0.038],[0.008,0.045],[0.0105,0.055],[0.013,0.045],[0.015,0.04],[0.0175,0.036],[0.02,0.038],[0.0225,0.045],[0.025,0.055],[0.0275,0.045],[0.03,0.04],[0.032,0.036],[0.0345,0.038],[0.037,0.045],[0.0395,0.056],[0.042,0.046],[0.0445,0.04],[0.047,0.045],[0.05,0.045]];
const f_right1180=[[0,0.055],[0.001,0.06],[0.002,0.068],[0.0025,0.075],[0.003,0.05],[0.005,0.045],[0.008,0.042],[0.011,0.045],[0.014,0.05],[0.0155,0.06],[0.0165,0.075],[0.017,0.05],[0.019,0.045],[0.022,0.042],[0.025,0.045],[0.028,0.05],[0.030,0.06],[0.031,0.07],[0.0315,0.05],[0.034,0.045],[0.037,0.042],[0.040,0.045],[0.042,0.05],[0.0435,0.065],[0.0445,0.08],[0.045,0.055],[0.047,0.05],[0.05,0.045]];

// ---------- styles & layout ----------
const FONT='"Liberation Serif","Times New Roman",serif';
const COLORS=['#ff0000','#f09090','#000000','#8c8c8c','#0000ee','#9a9af2'];
const WIDTHS=[1.8,0.8,1.8,0.8,1.8,0.8];
const SMOOTH=[false,false,false,false,true,true];
const YW=40, PT=10, PR=12, XH=26;

const panels=[
 {box:[34,15,236,171],ticks:a_yTicks,title:'Axial displacement (μm)',tOff:24,series:[a_left250,a_right250,a_left590,a_right590,a_left1180,a_right1180],lg:{x:240,len:17,tx:261,rows:[15,27,39,51,63,75]},sub:['(a)',163,220]},
 {box:[399,6,602,161],ticks:d_yTicks,title:'External contact angle (°)',tOff:23,series:[d_left250,d_right250,d_left590,d_right590,d_left1180,d_right1180],lg:{x:605,len:18,tx:626,rows:[5,17,29,41,53,64]},sub:['(d)',515,223]},
 {box:[33,256,236,412],ticks:b_yTicks,title:'Radial displacement (μm)',tOff:22,series:[b_left250,b_right250,b_left590,b_right590,b_left1180,b_right1180],lg:{x:240,len:17,tx:261,rows:[256,268,280,292,304,316]},sub:['(b)',163,460]},
 {box:[390,260,592,416],ticks:e_yTicks,title:'Sliding speed between ball and inner race (m/s)',tOff:23,series:[e_left250,e_right250,e_left590,e_right590,e_left1180,e_right1180],lg:{x:594,len:19,tx:616,rows:[259,272,283,295,307,319]},sub:['(e)',518,467]},
 {box:[35,498,237,654],ticks:c_yTicks,title:'Internal contact angle (°)',tOff:23,series:[c_left250,c_right250,c_left590,c_right590,c_left1180,c_right1180],lg:{x:240,len:17,tx:261,rows:[499,511,523,535,547,559]},sub:['(c)',163,705]},
 {box:[394,502,592,657],ticks:f_yTicks,title:'Sliding speed between ball and outer race (m/s)',tOff:29,series:[f_left250,f_right250,f_left590,f_right590,f_left1180,f_right1180],lg:{x:594,len:19,tx:616,rows:[502,514,526,537,549,562]},sub:['(f)',517,707]}
];

const framePlugin={id:'frame',afterDatasetsDraw(chart){
  const {ctx,chartArea:a,scales}=chart;
  ctx.save();ctx.strokeStyle='#a8a8a8';ctx.lineWidth=1;
  const L=Math.round(a.left)+0.5,T=Math.round(a.top)+0.5,R=Math.round(a.right)+0.5,B=Math.round(a.bottom)+0.5;
  ctx.strokeRect(L,T,R-L,B-T);
  ctx.beginPath();
  scales.x.ticks.forEach(t=>{const p=Math.round(scales.x.getPixelForValue(t.value))+0.5;ctx.moveTo(p,B);ctx.lineTo(p,B-2);ctx.moveTo(p,T);ctx.lineTo(p,T+2);});
  scales.y.ticks.forEach(t=>{const p=Math.round(scales.y.getPixelForValue(t.value))+0.5;ctx.moveTo(L,p);ctx.lineTo(L+2,p);ctx.moveTo(R,p);ctx.lineTo(R-2,p);});
  ctx.stroke();ctx.restore();
}};

panels.forEach(p=>{
  const [l,t,r,b]=p.box;
  const W=YW+(r-l)+PR, H=PT+(b-t)+XH;
  const wrap=document.createElement('div');wrap.className='pw';
  wrap.style.left=(l-YW)+'px';wrap.style.top=(t-PT)+'px';wrap.style.width=W+'px';wrap.style.height=H+'px';
  const cv=document.createElement('canvas');cv.width=W;cv.height=H;cv.style.width=W+'px';cv.style.height=H+'px';
  wrap.appendChild(cv);document.body.appendChild(wrap);
  const yMin=p.ticks[0], yMax=p.ticks[p.ticks.length-1];
  const titleLH=8.5*1.2;
  new Chart(cv,{type:'line',
    data:{datasets:p.series.map((s,i)=>({label:SIDES[i]+' '+LOADS[i],data:s.map(([x,y])=>({x,y})),borderColor:COLORS[i],borderWidth:WIDTHS[i],pointRadius:0,fill:false,tension:0,cubicInterpolationMode:SMOOTH[i]?'monotone':'default',borderJoinStyle:'round',order:5-i}))},
    options:{responsive:false,animation:false,devicePixelRatio:1,
      layout:{padding:{top:PT,right:PR,left:0,bottom:0}},
      plugins:{legend:{display:false},tooltip:{enabled:false}},
      scales:{
        x:{type:'linear',min:0,max:0.06,grid:{display:false,drawTicks:false},border:{display:false},
          afterBuildTicks:s=>{s.ticks=X_TICKS.map(v=>({value:v}));},
          afterFit:s=>{s.height=XH;},
          ticks:{callback:(v,i)=>X_LABELS[i],font:{family:FONT,size:10},color:'#222',padding:3,maxRotation:0,autoSkip:false},
          title:{display:true,text:'t (s)',font:{family:FONT,size:10},color:'#222',padding:{top:0,bottom:0}}},
        y:{type:'linear',min:yMin,max:yMax,grid:{display:false,drawTicks:false},border:{display:false},
          afterBuildTicks:s=>{s.ticks=p.ticks.map(v=>({value:v}));},
          afterFit:s=>{s.width=YW;},
          ticks:{callback:(v,i)=>String(p.ticks[i]),font:{family:FONT,size:10},color:'#222',padding:3,autoSkip:false},
          title:{display:true,text:p.title,font:{family:FONT,size:8.5},color:'#222',padding:{top:YW-p.tOff-titleLH/2,bottom:0}}}
      }},
    plugins:[framePlugin]});
  // legend
  p.lg.rows.forEach((y,i)=>{
    const row=document.createElement('div');row.className='lg';
    row.style.left=p.lg.x+'px';row.style.top=(y-6)+'px';
    const ln=document.createElement('i');
    const w=i%2===0?2.2:1;
    ln.style.left='0px';ln.style.width=p.lg.len+'px';ln.style.top=(6-w/2)+'px';ln.style.borderTopWidth=w+'px';ln.style.borderTopColor=COLORS[i];
    row.appendChild(ln);
    const s1=document.createElement('span');s1.textContent=SIDES[i];s1.style.left=(p.lg.tx-p.lg.x)+'px';row.appendChild(s1);
    const s2=document.createElement('span');s2.textContent=LOADS[i];s2.style.left=(p.lg.tx-p.lg.x+23)+'px';row.appendChild(s2);
    document.body.appendChild(row);
  });
  const sub=document.createElement('div');sub.className='sub';sub.textContent=p.sub[0];sub.style.left=p.sub[1]+'px';sub.style.top=p.sub[2]+'px';
  document.body.appendChild(sub);
});
</script>
</body></html>
